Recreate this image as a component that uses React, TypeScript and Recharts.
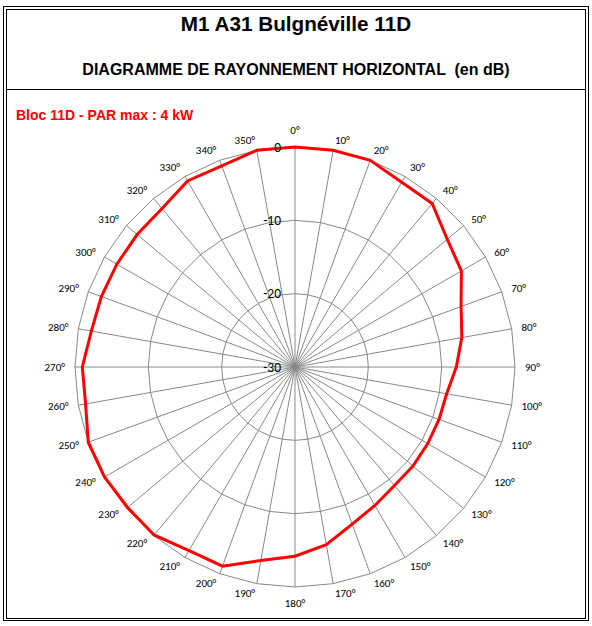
import { RadarChart, Radar, PolarGrid, PolarAngleAxis, PolarRadiusAxis } from 'recharts';

const angles = [0, 10, 20, 30, 40, 50, 60, 70, 80, 90, 100, 110, 120, 130, 140, 150, 160, 170,
  180, 190, 200, 210, 220, 230, 240, 250, 260, 270, 280, 290, 300, 310, 320, 330, 340, 350];
const attenuation = [0, 0, 0, -0.9, -0.9, -2.9, -3.8, -5.9, -6.9, -8.0, -9.0, -9.1, -9.1, -9.0, -8.9, -8.2, -7.2, -5.4,
  -4.2, -3.2, -1.1, -1.1, -0.1, -0.2, 0, 0, -1.0, -1.0, -1.8, -1.9, -1.95, -1.9, -1.8, -0.7, -0.8, 0];
const radiusTicks = [-30, -20, -10, 0];

const title = 'M1 A31 Bulgnéville 11D';
const subtitle = 'DIAGRAMME DE RAYONNEMENT HORIZONTAL  (en dB)';
const seriesName = 'Bloc 11D - PAR max : 4 kW';

const CX = 295;
const CY = 367;
const R = 220;

const data = angles.map((a, i) => ({ angle: a, value: attenuation[i] }));

function AngleTick(props: any) {
  const deg = Number(props.payload.value);
  const rad = (deg * Math.PI) / 180;
  const dx = Math.sin(rad);
  const dy = -Math.cos(rad);
  const x = CX + (R + 10) * dx;
  let y = CY + (R + 10) * dy;
  let anchor: 'start' | 'end' | 'middle' = 'middle';
  if (dx > 0.01) anchor = 'start';
  if (dx < -0.01) anchor = 'end';
  if (deg === 0) y -= 7;
  if (deg === 180) y += 6;
  return (
    <text x={x} y={y} textAnchor={anchor} dominantBaseline="central" fontSize={11} fontFamily="Carlito, Lato, sans-serif" fill="#000">
      {deg}°
    </text>
  );
}

function RadiusTick(props: any) {
  return (
    <text x={props.x - 14} y={props.y} textAnchor="end" dominantBaseline="central" fontSize={13.5} fontFamily="Carlito, Lato, sans-serif" fill="#000">
      {props.payload.value}
    </text>
  );
}

export default function App() {
  const font = '"Liberation Sans", Arial, sans-serif';
  return (
    <div style={{ position: 'absolute', left: 0, top: 0, width: 592, height: 626, background: '#fff' }}>
      <div style={{ position: 'absolute', left: 3, top: 6, width: 586, height: 615, border: '1px solid #000', boxSizing: 'border-box' }} />
      <div style={{ position: 'absolute', left: 6, top: 9, width: 580, height: 610, border: '1px solid #000', boxSizing: 'border-box' }} />
      <div style={{ position: 'absolute', left: 6, top: 89, width: 580, height: 1, background: '#000' }} />

      <div style={{ position: 'absolute', left: 6, width: 580, top: 14, textAlign: 'center', fontFamily: font, fontWeight: 'bold', fontSize: 20.7, lineHeight: '20.7px', whiteSpace: 'pre' }}>
        {title}
      </div>
      <div style={{ position: 'absolute', left: 6, width: 580, top: 61.5, textAlign: 'center', fontFamily: font, fontWeight: 'bold', fontSize: 16, lineHeight: '16px', whiteSpace: 'pre' }}>
        {subtitle}
      </div>
      <div style={{ position: 'absolute', left: 16, top: 107.5, color: '#ff0000', fontFamily: font, fontWeight: 'bold', fontSize: 14, lineHeight: '14px', whiteSpace: 'pre' }}>
        {seriesName}
      </div>

      <div style={{ position: 'absolute', left: 0, top: 0 }}>
        <RadarChart width={592} height={626} data={data} cx={CX} cy={CY} outerRadius={R} margin={{ top: 0, right: 0, bottom: 0, left: 0 }}>
          <PolarGrid gridType="polygon" stroke="#888888" strokeWidth={1} />
          <PolarAngleAxis dataKey="angle" tick={AngleTick} tickLine={false} axisLine={false} />
          <PolarRadiusAxis angle={90} domain={[-30, 0]} ticks={radiusTicks} tick={RadiusTick} axisLine={false} tickLine={false} />
          <Radar
            dataKey="value"
            stroke="#ff0000"
            strokeWidth={3}
            fill="none"
            fillOpacity={0}
            dot={false}
            isAnimationActive={false}
          />
        </RadarChart>
      </div>
    </div>
  );
}
